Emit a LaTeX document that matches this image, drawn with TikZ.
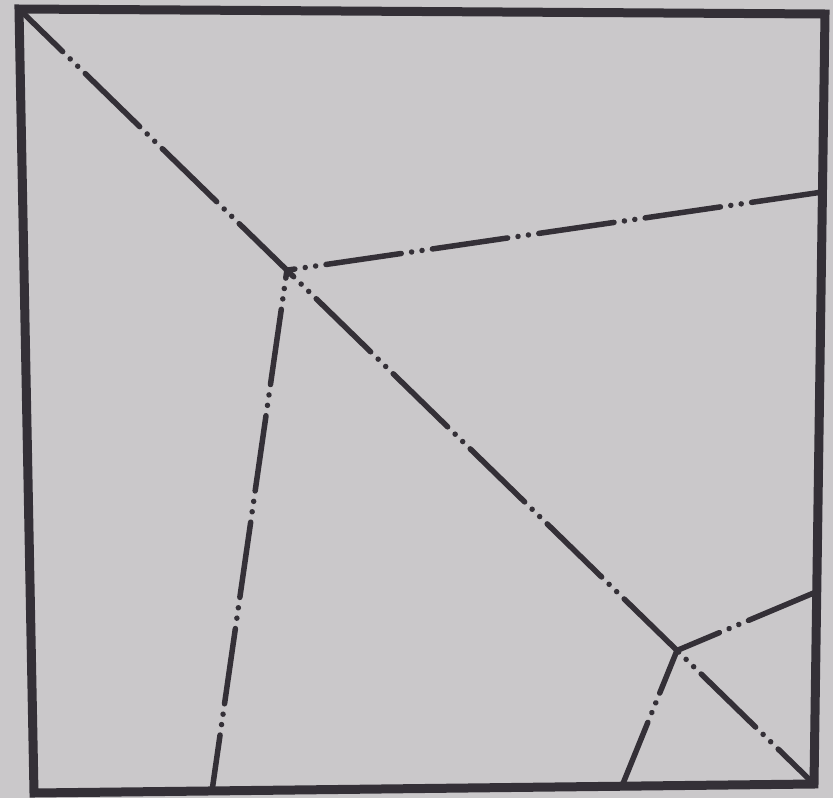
\documentclass[tikz,border=0pt]{standalone}
\usetikzlibrary{calc}
\definecolor{paper}{RGB}{202,200,202}
\definecolor{ink}{RGB}{52,48,55}
\tikzset{
  frameline/.style={draw=ink, line width=9pt, line join=miter},
  chain/.style={draw=ink, line width=5.5pt, line cap=round,
    dash pattern=on 76pt off 10.5pt on 0.01pt off 10.5pt on 0.01pt off 10.5pt}
}
\begin{document}
\begin{tikzpicture}[x=1pt,y=-1pt]
\fill[paper] (0,0) rectangle (833,798);
\useasboundingbox (0,0) rectangle (833,798);
\coordinate (TL) at (19,9);
\coordinate (TR) at (825,14);
\coordinate (BR) at (814,784);
\coordinate (BL) at (34,793);
\coordinate (V1) at ($(TL)!0.337!(BR)$);
\coordinate (V2) at ($(TL)!0.8277!(BR)$);
\coordinate (R1) at (822.5,192);
\coordinate (B1) at (212,791);
\coordinate (R2) at (816,592);
\coordinate (B2) at (622,786);
\draw[chain, dash phase=15pt] (TL) -- (BR);
\draw[chain, dash phase=68pt] (V1) -- (R1);
\draw[chain, dash phase=68pt] (V1) -- (B1);
\draw[chain, dash phase=30pt] (V2) -- (R2);
\draw[chain, dash phase=30pt] (V2) -- (B2);
\draw[frameline] (TL) -- (TR) -- (BR) -- (BL) -- cycle;
\end{tikzpicture}
\end{document}
